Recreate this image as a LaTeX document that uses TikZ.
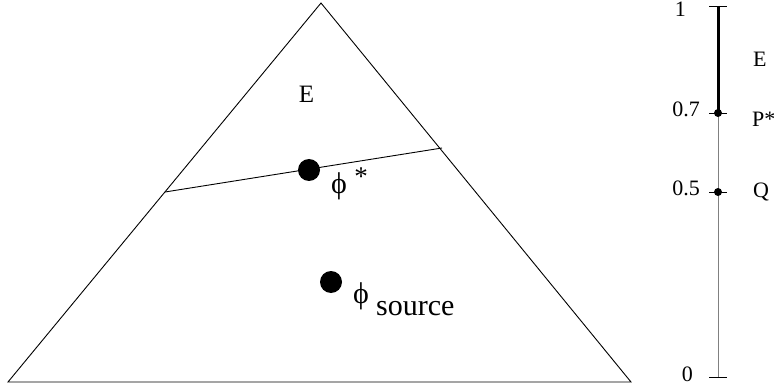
\documentclass[tikz,border=0pt]{standalone}
\usepackage{fontspec}
\setmainfont{Liberation Serif}
\begin{document}
\begin{tikzpicture}[x=1pt,y=-1pt,
  lbl/.style={inner sep=0pt,font=\fontsize{22}{22}\selectfont},
  big/.style={inner sep=0pt,font=\fontsize{30}{30}\selectfont},
  edge/.style={line width=0.9pt,black},
  dotbig/.style={circle,fill=black,inner sep=0pt,minimum size=22pt},
  dotsmall/.style={circle,fill=black,inner sep=0pt,minimum size=8pt},
  tick/.style={line width=0.9pt,black}]
\useasboundingbox (0,0) rectangle (774,385);
% triangle
\coordinate (L) at (8,382);
\coordinate (R) at (631,382);
\coordinate (T) at (321,3);
\draw[edge,line join=miter] (L) -- (R) -- (T) -- cycle;
% chord
\coordinate (c1) at (165,192);
\coordinate (c2) at (442,148);
\draw[edge] (c1) -- (c2);
\node[dotbig] (pstar) at (309,170) {};
\node[dotbig] (psrc) at (331,282) {};
\node[inner sep=0pt,font=\fontsize{25}{25}\selectfont,anchor=base] (Etri) at (306.5,103) {E};
\node[big,anchor=base west] (phistar) at (331,193.5) {ϕ};
\node[inner sep=0pt,font=\fontsize{27}{27}\selectfont] (star) at (361,177) {*};
\node[big,anchor=base west] (phisrc) at (353,303.5) {ϕ};
\node[big,anchor=base west] (src) at (376,315) {source};
% axis
\coordinate (a1) at (718,6);
\coordinate (a7) at (718,113);
\coordinate (a5) at (718,192);
\coordinate (a0) at (718,377);
\draw[line width=0.9pt,gray] (a7) -- (a0);
\draw[line width=3pt,black] (a1) -- (a7);
\draw[tick] (709,6) -- (727,6);
\draw[tick] (709,113) -- (727,113);
\draw[tick] (709,192) -- (727,192);
\draw[tick] (709,377) -- (727,377);
\node[dotsmall] (d7) at (a7) {};
\node[dotsmall] (d5) at (a5) {};
\node[lbl,anchor=base east] (t1) at (686,17) {1};
\node[lbl,anchor=base east] (t7) at (700,117) {0.7};
\node[lbl,anchor=base east] (t5) at (700,196) {0.5};
\node[lbl,anchor=base east] (t0) at (693,381) {0};
\node[lbl,anchor=base west] (lE) at (753,67) {E};
\node[lbl,anchor=base west] (lP) at (752,127) {P*};
\node[lbl,anchor=base west] (lQ) at (753,197) {Q};
\end{tikzpicture}
\end{document}
